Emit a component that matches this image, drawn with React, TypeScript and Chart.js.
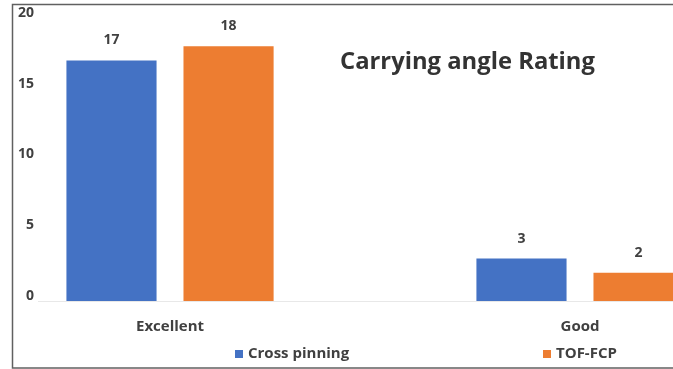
import { useEffect, useRef } from 'react';
import { Chart, registerables } from 'chart.js';

Chart.register(...registerables);

const categories = ['Excellent', 'Good'];
const seriesNames = ['Cross pinning', 'TOF-FCP'];
const crossPinning = [17, 3];
const tofFcp = [18, 2];
const yTicks = [0, 5, 10, 15, 20];
const chartTitle = 'Carrying angle Rating';

const BLUE = '#4472C4';
const ORANGE = '#ED7D31';
const TEXT = '#404040';
const FONT = '"Open Sans", "DejaVu Sans", sans-serif';

export default function App() {
  const ref = useRef<HTMLCanvasElement>(null);

  useEffect(() => {
    const canvas = ref.current;
    if (!canvas) return;

    const framePlugin = {
      id: 'frame',
      beforeDraw(chart: any) {
        const ctx = chart.ctx;
        ctx.save();
        ctx.fillStyle = '#ffffff';
        ctx.fillRect(0, 0, chart.width, chart.height);
        ctx.strokeStyle = '#606060';
        ctx.lineWidth = 1.5;
        ctx.strokeRect(12.5, 4.5, 720, 363.5);
        ctx.restore();
      },
    };

    const valueLabelPlugin = {
      id: 'valueLabels',
      afterDatasetsDraw(chart: any) {
        const ctx = chart.ctx;
        ctx.save();
        ctx.font = `bold 14px ${FONT}`;
        ctx.fillStyle = TEXT;
        ctx.textAlign = 'center';
        ctx.textBaseline = 'middle';
        chart.data.datasets.forEach((ds: any, di: number) => {
          const meta = chart.getDatasetMeta(di);
          meta.data.forEach((el: any, i: number) => {
            const v = ds.data[i].y;
            ctx.fillText(String(v), el.x, el.y - 20);
          });
        });
        ctx.restore();
      },
    };

    const titlePlugin = {
      id: 'innerTitle',
      afterDraw(chart: any) {
        const ctx = chart.ctx;
        ctx.save();
        ctx.font = `bold 100px ${FONT}`;
        const w100 = ctx.measureText(chartTitle).width;
        const size = (255 / w100) * 100;
        ctx.font = `bold ${size}px ${FONT}`;
        ctx.fillStyle = '#333333';
        ctx.textAlign = 'left';
        ctx.textBaseline = 'alphabetic';
        ctx.fillText(chartTitle, 340, 69);
        ctx.restore();
      },
    };

    const legendStarts = [235, 543];
    const legendPlugin = {
      id: 'customLegend',
      afterDraw(chart: any) {
        const ctx = chart.ctx;
        ctx.save();
        ctx.font = `bold 15px ${FONT}`;
        ctx.textBaseline = 'middle';
        ctx.textAlign = 'left';
        chart.data.datasets.forEach((ds: any, di: number) => {
          const x = legendStarts[di];
          const y = 354;
          ctx.fillStyle = ds.backgroundColor;
          ctx.fillRect(x, y - 4, 8, 8);
          ctx.fillStyle = TEXT;
          ctx.fillText(ds.label, x + 13, y);
        });
        ctx.restore();
      },
    };

    const chart = new Chart(canvas, {
      type: 'bar',
      data: {
        datasets: [
          {
            label: seriesNames[0],
            data: crossPinning.map((v, i) => ({ x: i, y: v })),
            backgroundColor: BLUE,
            categoryPercentage: 0.571,
            barPercentage: 0.77,
          },
          {
            label: seriesNames[1],
            data: tofFcp.map((v, i) => ({ x: i, y: v })),
            backgroundColor: ORANGE,
            categoryPercentage: 0.571,
            barPercentage: 0.77,
          },
        ],
      },
      options: {
        responsive: false,
        animation: false,
        devicePixelRatio: 1,
        layout: { padding: { left: 12, right: 0, top: 18, bottom: 33 } },
        plugins: {
          legend: { display: false },
          tooltip: { enabled: false },
          title: { display: false },
        },
        scales: {
          x: {
            type: 'linear',
            min: -0.322,
            max: 1.2268,
            offset: false,
            afterBuildTicks: (s: any) => {
              s.ticks = categories.map((_, i) => ({ value: i }));
            },
            afterFit: (s: any) => {
              s.height = 35;
            },
            ticks: {
              callback: (v: any) => categories[v] ?? '',
              padding: 17,
              autoSkip: false,
              maxRotation: 0,
              font: { family: FONT, size: 15, weight: 'bold' },
              color: TEXT,
            },
            grid: { display: false, drawTicks: false },
            border: { display: true, color: '#e8e8e8', width: 1 },
          },
          y: {
            min: 0,
            max: 20,
            afterBuildTicks: (s: any) => {
              s.ticks = yTicks.map((v) => ({ value: v }));
            },
            afterFit: (s: any) => {
              s.width = 26;
            },
            ticks: {
              padding: 4,
              labelOffset: -5,
              font: { family: FONT, size: 14, weight: 'bold' },
              color: TEXT,
            },
            grid: { display: false, drawTicks: false },
            border: { display: false },
          },
        },
      } as any,
      plugins: [framePlugin, valueLabelPlugin, titlePlugin, legendPlugin],
    });

    return () => chart.destroy();
  }, []);

  return (
    <div style={{ position: 'fixed', left: 0, top: 0, width: 673, height: 369, background: '#fff' }}>
      <canvas ref={ref} width={673} height={369} style={{ display: 'block' }} />
    </div>
  );
}
